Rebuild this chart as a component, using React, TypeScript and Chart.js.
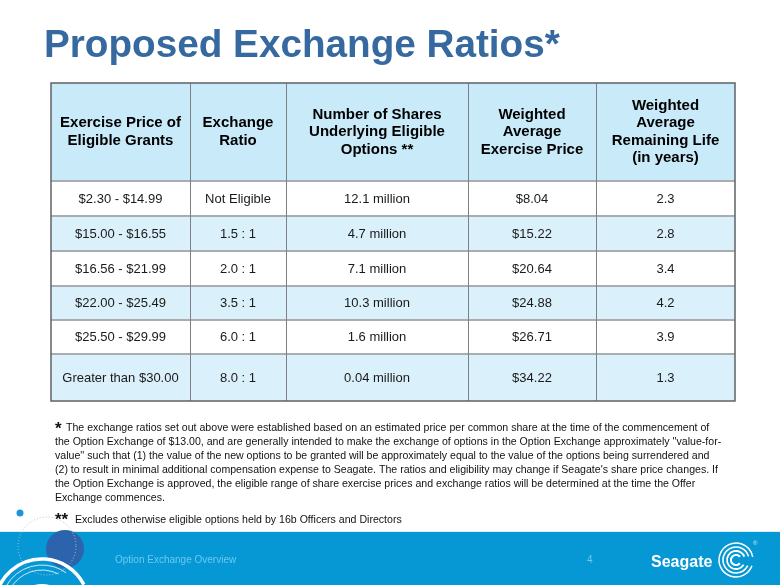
import React, { useEffect, useRef } from "react";
import { Chart, registerables } from "chart.js";

Chart.register(...registerables);

// ---- data ----
const TITLE = "Proposed Exchange Ratios*";
const COLUMN_HEADERS: string[][] = [
  ["Exercise Price of", "Eligible Grants"],
  ["Exchange", "Ratio"],
  ["Number of Shares", "Underlying Eligible", "Options **"],
  ["Weighted", "Average", "Exercise Price"],
  ["Weighted", "Average", "Remaining Life", "(in years)"],
];
const PRICE_RANGES = [
  "$2.30 - $14.99",
  "$15.00 - $16.55",
  "$16.56 - $21.99",
  "$22.00 - $25.49",
  "$25.50 - $29.99",
  "Greater than $30.00",
];
const EXCHANGE_RATIOS = ["Not Eligible", "1.5 : 1", "2.0 : 1", "3.5 : 1", "6.0 : 1", "8.0 : 1"];
const SHARES_MILLIONS = [12.1, 4.7, 7.1, 10.3, 1.6, 0.04];
const AVG_EXERCISE_PRICE = [8.04, 15.22, 20.64, 24.88, 26.71, 34.22];
const REMAINING_LIFE = [2.3, 2.8, 3.4, 4.2, 3.9, 1.3];

const FOOTNOTE_LINES = [
  "The exchange ratios set out above were established based on an estimated price per common share at the time of the commencement of",
  "the Option Exchange of $13.00, and are generally intended to make the exchange of options in the Option Exchange approximately ''value-for-",
  "value'' such that (1) the value of the new options to be granted will be approximately equal to the value of the options being surrendered and",
  "(2) to result in minimal additional compensation expense to Seagate. The ratios and eligibility may change if Seagate's share price changes. If",
  "the Option Exchange is approved, the eligible range of share exercise prices and exchange ratios will be determined at the time the Offer",
  "Exchange commences.",
];
const FOOTNOTE_2 = "Excludes otherwise eligible options held by 16b Officers and Directors";
const FOOTER_LABEL = "Option Exchange Overview";
const PAGE_NUMBER = "4";
const BRAND = "Seagate";

// ---- layout (relative widths / heights in table units) ----
const COL_WEIGHTS = [139, 96, 182, 128, 139];
const ROW_WEIGHTS = [98, 35, 35, 35, 34, 34, 47];

const FONT = "'Liberation Sans', Arial, Helvetica, sans-serif";

function cum(a: number[]) {
  const out = [0];
  a.forEach((v) => out.push(out[out.length - 1] + v));
  return out;
}

function cellText(r: number, c: number): string {
  switch (c) {
    case 0: return PRICE_RANGES[r];
    case 1: return EXCHANGE_RATIOS[r];
    case 2: return `${SHARES_MILLIONS[r]} million`;
    case 3: return `$${AVG_EXERCISE_PRICE[r].toFixed(2)}`;
    default: return REMAINING_LIFE[r].toFixed(1);
  }
}

const slidePlugin = {
  id: "slide",
  beforeDraw(chart: any) {
    const ctx = chart.ctx as CanvasRenderingContext2D;
    ctx.save();
    ctx.fillStyle = "#ffffff";
    ctx.fillRect(0, 0, chart.width, chart.height);
    ctx.restore();
  },
  afterDraw(chart: any) {
    const ctx = chart.ctx as CanvasRenderingContext2D;
    const xs = chart.scales.x;
    const ys = chart.scales.y;
    const colEdges = cum(COL_WEIGHTS).map((v) => xs.getPixelForValue(v));
    const rowEdges = cum(ROW_WEIGHTS).map((v) => ys.getPixelForValue(v));
    const left = colEdges[0], right = colEdges[colEdges.length - 1];
    const top = rowEdges[0], bottom = rowEdges[rowEdges.length - 1];
    ctx.save();

    // Title
    ctx.fillStyle = "#36699f";
    ctx.textBaseline = "alphabetic";
    ctx.textAlign = "left";
    ctx.font = `bold 40px ${FONT}`;
    const tw = ctx.measureText(TITLE).width;
    const tfs = 40 * 516 / tw;
    ctx.font = `bold ${tfs}px ${FONT}`;
    ctx.fillText(TITLE, 44, 57);

    // Row backgrounds
    const rowColors = ["#c8eaf9", "#ffffff", "#daf0fb", "#ffffff", "#daf0fb", "#ffffff", "#daf0fb"];
    for (let r = 0; r < ROW_WEIGHTS.length; r++) {
      ctx.fillStyle = rowColors[r];
      ctx.fillRect(left, rowEdges[r], right - left, rowEdges[r + 1] - rowEdges[r]);
    }
    // horizontal lines
    ctx.strokeStyle = "#a9adb0";
    ctx.lineWidth = 2;
    for (let r = 1; r < ROW_WEIGHTS.length; r++) {
      ctx.beginPath();
      ctx.moveTo(left, rowEdges[r]);
      ctx.lineTo(right, rowEdges[r]);
      ctx.stroke();
    }
    // vertical lines
    ctx.strokeStyle = "#7d8084";
    ctx.lineWidth = 1;
    for (let c = 1; c < COL_WEIGHTS.length; c++) {
      const x = Math.round(colEdges[c]) + 0.5;
      ctx.beginPath();
      ctx.moveTo(x, top);
      ctx.lineTo(x, bottom);
      ctx.stroke();
    }
    // outer border
    ctx.strokeStyle = "#5f6366";
    ctx.lineWidth = 1.5;
    ctx.strokeRect(left, top, right - left, bottom - top);

    // header text
    ctx.fillStyle = "#000000";
    ctx.textAlign = "center";
    ctx.textBaseline = "middle";
    ctx.font = `bold 15px ${FONT}`;
    const hc = (rowEdges[0] + rowEdges[1]) / 2;
    const lh = 17.5;
    COLUMN_HEADERS.forEach((lines, c) => {
      const cx = (colEdges[c] + colEdges[c + 1]) / 2;
      const start = hc - ((lines.length - 1) * lh) / 2;
      lines.forEach((t, i) => ctx.fillText(t, cx, start + i * lh));
    });

    // body text
    ctx.fillStyle = "#1a1a1a";
    ctx.font = `13px ${FONT}`;
    for (let r = 0; r < PRICE_RANGES.length; r++) {
      const cy = (rowEdges[r + 1] + rowEdges[r + 2]) / 2 + 0.5;
      for (let c = 0; c < COL_WEIGHTS.length; c++) {
        const cx = (colEdges[c] + colEdges[c + 1]) / 2;
        ctx.fillText(cellText(r, c), cx, cy);
      }
    }

    // footnotes
    ctx.textAlign = "left";
    ctx.textBaseline = "alphabetic";
    ctx.fillStyle = "#111111";
    ctx.font = `12px ${FONT}`;
    const w2 = ctx.measureText(FOOTNOTE_LINES[1]).width;
    const ffs = 12 * 667 / w2;
    ctx.font = `bold 17px ${FONT}`;
    ctx.fillText("*", 55, 434);
    ctx.font = `${ffs}px ${FONT}`;
    const fl = 14;
    FOOTNOTE_LINES.forEach((t, i) => {
      ctx.fillText(t, i === 0 ? 66 : 55, 431 + i * fl);
    });
    ctx.font = `bold 17px ${FONT}`;
    ctx.fillText("**", 55, 525);
    ctx.font = `${ffs}px ${FONT}`;
    ctx.fillText(FOOTNOTE_2, 75, 523);

    // footer band
    const bandTop = 531;
    ctx.fillStyle = "#0598d5";
    ctx.fillRect(0, bandTop, chart.width, chart.height - bandTop);
    ctx.fillStyle = "#d4edf9";
    ctx.fillRect(0, bandTop, chart.width, 1);

    // decoration
    ctx.fillStyle = "#2c63ad";
    ctx.beginPath();
    ctx.arc(65, 549, 19, 0, Math.PI * 2);
    ctx.fill();
    ctx.save();
    ctx.setLineDash([1, 2]);
    ctx.strokeStyle = "#b8c4cc";
    ctx.lineWidth = 1;
    ctx.beginPath();
    ctx.arc(47, 546, 29, 0, Math.PI * 2);
    ctx.stroke();
    ctx.restore();
    ctx.fillStyle = "#1f95d8";
    ctx.beginPath();
    ctx.arc(20, 513, 3.5, 0, Math.PI * 2);
    ctx.fill();
    ctx.strokeStyle = "#ffffff";
    ctx.lineWidth = 3.5;
    ctx.beginPath();
    ctx.arc(42, 606, 47, Math.PI * 1.02, Math.PI * 1.85);
    ctx.stroke();
    ctx.lineWidth = 1;
    ctx.globalAlpha = 0.8;
    ctx.beginPath();
    ctx.arc(42, 606, 41, Math.PI * 1.1, Math.PI * 1.7);
    ctx.stroke();
    ctx.beginPath();
    ctx.arc(42, 606, 36, Math.PI * 1.15, Math.PI * 1.65);
    ctx.stroke();
    ctx.globalAlpha = 1;
    ctx.fillStyle = "#ffffff";
    ctx.beginPath();
    ctx.arc(42, 614, 30, 0, Math.PI * 2);
    ctx.fill();

    ctx.fillStyle = "#6cc8f0";
    ctx.font = `10px ${FONT}`;
    ctx.fillText(FOOTER_LABEL, 115, 563);
    ctx.fillText(PAGE_NUMBER, 587, 563);

    ctx.fillStyle = "#ffffff";
    ctx.font = `bold 16px ${FONT}`;
    ctx.fillText(BRAND, 651, 567);
    // logo arcs
    ctx.strokeStyle = "#ffffff";
    const lcx = 736, lcy = 560;
    [[5, 2.2, 0.7, 5.6], [9, 1.8, 0.55, 5.9], [13, 1.6, 0.45, 6.0], [17, 1.5, 0.35, 6.1]].forEach(
      ([rad, lw, a0, a1]) => {
        ctx.lineWidth = lw;
        ctx.beginPath();
        ctx.arc(lcx, lcy, rad, a0, a1);
        ctx.stroke();
      }
    );
    ctx.font = `6px ${FONT}`;
    ctx.fillStyle = "#cfeaf7";
    ctx.fillText("®", 753, 545);

    ctx.restore();
  },
};

export default function App() {
  const ref = useRef<HTMLCanvasElement | null>(null);
  useEffect(() => {
    if (!ref.current) return;
    const chart = new Chart(ref.current, {
      type: "scatter",
      data: { datasets: [] },
      options: {
        animation: false,
        responsive: false,
        devicePixelRatio: 1,
        layout: { padding: { left: 51, right: 45, top: 83, bottom: 184 } },
        scales: {
          x: { type: "linear", min: 0, max: COL_WEIGHTS.reduce((a, b) => a + b, 0), display: false },
          y: { type: "linear", min: 0, max: ROW_WEIGHTS.reduce((a, b) => a + b, 0), reverse: true, display: false },
        },
        plugins: { legend: { display: false }, tooltip: { enabled: false }, title: { display: false } },
      },
      plugins: [slidePlugin],
    });
    return () => chart.destroy();
  }, []);
  return (
    <div style={{ position: "fixed", left: 0, top: 0, width: 780, height: 585, background: "#fff" }}>
      <canvas ref={ref} width={780} height={585} style={{ width: 780, height: 585, display: "block" }} />
    </div>
  );
}
